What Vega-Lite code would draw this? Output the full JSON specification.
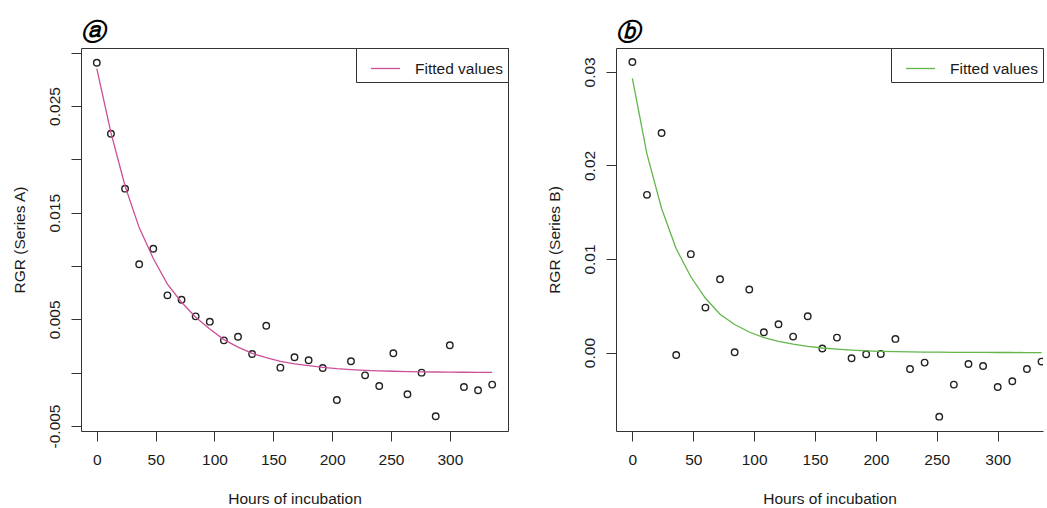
{
  "$schema": "https://vega.github.io/schema/vega-lite/v6.json",
  "padding": {"left": 11, "top": 20, "right": 0, "bottom": 0},
  "spacing": 38,
  "background": "white",
  "config": {
    "font": "Liberation Sans",
    "view": {"stroke": "#333", "strokeWidth": 1},
    "axis": {
      "domain": false, "grid": false, "tickColor": "#333", "tickSize": 10, "tickWidth": 1,
      "labelFont": "Liberation Sans", "labelFontSize": 15.5, "labelColor": "#1a1a1a",
      "titleFont": "Liberation Sans", "titleFontSize": 15.5, "titleFontWeight": "normal", "titleColor": "#1a1a1a",
      "labelFlush": false, "labelOverlap": false, "domainColor": "#333", "domainWidth": 1
    },
    "axisY": {"labelAngle": -90, "labelAlign": "center", "labelBaseline": "alphabetic", "labelPadding": 12, "titlePadding": 20},
    "axisX": {"labelPadding": 11, "titlePadding": 24},
    "legend": {
      "orient": "top-right", "offset": 0, "padding": 5, "strokeColor": "#333", "fillColor": "white",
      "labelFont": "Liberation Sans", "labelFontSize": 15.5, "labelColor": "#1a1a1a", "labelOffset": 14,
      "symbolType": "stroke", "symbolSize": 841, "symbolStrokeWidth": 1.3, "symbolOffset": 9, "cornerRadius": 0
    },
    "title": {"anchor": "start", "font": "DejaVu Serif", "fontSize": 24, "fontWeight": "bold", "fontStyle": "italic", "color": "black", "offset": 3, "frame": "group"}
  },
  "datasets": {
    "a": [
      {"h": 0, "rgr": 0.02906, "fit": 0.0285},
      {"h": 12, "rgr": 0.0224, "fit": 0.0225},
      {"h": 24, "rgr": 0.01725, "fit": 0.0175},
      {"h": 36, "rgr": 0.01016, "fit": 0.0136},
      {"h": 48, "rgr": 0.01162, "fit": 0.0107},
      {"h": 60, "rgr": 0.00725, "fit": 0.0083},
      {"h": 72, "rgr": 0.00684, "fit": 0.0066},
      {"h": 84, "rgr": 0.00528, "fit": 0.0052},
      {"h": 96, "rgr": 0.00478, "fit": 0.0041},
      {"h": 108, "rgr": 0.00303, "fit": 0.0031},
      {"h": 120, "rgr": 0.00337, "fit": 0.0024},
      {"h": 132, "rgr": 0.00175, "fit": 0.0018},
      {"h": 144, "rgr": 0.0044, "fit": 0.0014},
      {"h": 156, "rgr": 0.00047, "fit": 0.00105},
      {"h": 168, "rgr": 0.00144, "fit": 0.00082},
      {"h": 180, "rgr": 0.00116, "fit": 0.00065},
      {"h": 192, "rgr": 0.00044, "fit": 0.0005},
      {"h": 204, "rgr": -0.00256, "fit": 0.00038},
      {"h": 216, "rgr": 0.00107, "fit": 0.00029},
      {"h": 228, "rgr": -0.00025, "fit": 0.00022},
      {"h": 240, "rgr": -0.00125, "fit": 0.00017},
      {"h": 252, "rgr": 0.00182, "fit": 0.00013},
      {"h": 264, "rgr": -0.00203, "fit": 0.0001},
      {"h": 276, "rgr": 0.0, "fit": 0.00008},
      {"h": 288, "rgr": -0.00409, "fit": 0.00006},
      {"h": 300, "rgr": 0.00257, "fit": 0.00005},
      {"h": 312, "rgr": -0.00134, "fit": 0.00004},
      {"h": 324, "rgr": -0.00165, "fit": 0.00003},
      {"h": 336, "rgr": -0.00112, "fit": 0.00002}
    ],
    "b": [
      {"h": 0, "rgr": 0.03105, "fit": 0.0293},
      {"h": 12, "rgr": 0.01686, "fit": 0.0212},
      {"h": 24, "rgr": 0.02346, "fit": 0.0154},
      {"h": 36, "rgr": -0.00026, "fit": 0.0111},
      {"h": 48, "rgr": 0.01052, "fit": 0.0081},
      {"h": 60, "rgr": 0.00481, "fit": 0.0058},
      {"h": 72, "rgr": 0.00784, "fit": 0.0041},
      {"h": 84, "rgr": 0.00003, "fit": 0.003},
      {"h": 96, "rgr": 0.00674, "fit": 0.0022},
      {"h": 108, "rgr": 0.00217, "fit": 0.0016},
      {"h": 120, "rgr": 0.00303, "fit": 0.0012},
      {"h": 132, "rgr": 0.00171, "fit": 0.0009},
      {"h": 144, "rgr": 0.00388, "fit": 0.00066},
      {"h": 156, "rgr": 0.00043, "fit": 0.00049},
      {"h": 168, "rgr": 0.0016, "fit": 0.00036},
      {"h": 180, "rgr": -0.00061, "fit": 0.00026},
      {"h": 192, "rgr": -0.00018, "fit": 0.00019},
      {"h": 204, "rgr": -0.00015, "fit": 0.00014},
      {"h": 216, "rgr": 0.00146, "fit": 0.0001},
      {"h": 228, "rgr": -0.00175, "fit": 0.00007},
      {"h": 240, "rgr": -0.00107, "fit": 0.00005},
      {"h": 252, "rgr": -0.00685, "fit": 0.00004},
      {"h": 264, "rgr": -0.00342, "fit": 0.00003},
      {"h": 276, "rgr": -0.00122, "fit": 0.00002},
      {"h": 288, "rgr": -0.00143, "fit": 0.00002},
      {"h": 300, "rgr": -0.00368, "fit": 0.00001},
      {"h": 312, "rgr": -0.00307, "fit": 0.00001},
      {"h": 324, "rgr": -0.00175, "fit": 0.0},
      {"h": 336, "rgr": -0.00096, "fit": 0.0}
    ]
  },
  "hconcat": [
    {
      "title": {"text": "ⓐ"},
      "width": 427,
      "height": 383,
      "data": {"name": "a"},
      "layer": [
        {
          "mark": {"type": "point", "shape": "circle", "size": 42, "strokeWidth": 1.4, "color": "#222", "filled": false, "opacity": 1},
          "encoding": {
            "x": {"field": "h", "type": "quantitative", "title": "Hours of incubation",
              "scale": {"domain": [-13.44, 349.44], "nice": false, "zero": false},
              "axis": {"values": [0, 50, 100, 150, 200, 250, 300], "format": "d"}},
            "y": {"field": "rgr", "type": "quantitative", "title": "RGR (Series A)",
              "scale": {"domain": [-0.00547, 0.03044], "nice": false, "zero": false},
              "axis": {"values": [-0.005, 0, 0.005, 0.01, 0.015, 0.02, 0.025, 0.03],
                "labelExpr": "(abs(round(datum.value*1000)) % 10 == 5) ? replace(format(datum.value, '.3f'), '\u2212', '-') : ''"}}
          }
        },
        {
          "mark": {"type": "line", "strokeWidth": 1.3},
          "encoding": {
            "x": {"field": "h", "type": "quantitative", "title": "Hours of incubation"},
            "y": {"field": "fit", "type": "quantitative", "title": "RGR (Series A)"},
            "color": {"datum": "Fitted values", "scale": {"range": ["#cc4f9a"]}, "legend": {"title": null}}
          }
        }
      ]
    },
    {
      "title": {"text": "ⓑ"},
      "width": 427,
      "height": 383,
      "data": {"name": "b"},
      "view": {"stroke": null},
      "resolve": {"axis": {"x": "independent"}, "scale": {"color": "independent"}},
      "layer": [
        {
          "mark": {"type": "point", "shape": "circle", "size": 42, "strokeWidth": 1.4, "color": "#222", "filled": false, "opacity": 1, "clip": true},
          "encoding": {
            "x": {"field": "h", "type": "quantitative", "title": "Hours of incubation",
              "scale": {"domain": [-13.44, 337.2], "nice": false, "zero": false},
              "axis": {"values": [0, 50, 100, 150, 200, 250, 300], "format": "d", "domain": true}},
            "y": {"field": "rgr", "type": "quantitative", "title": "RGR (Series B)",
              "scale": {"domain": [-0.00838, 0.03255], "nice": false, "zero": false},
              "axis": {"values": [0, 0.01, 0.02, 0.03], "format": ".2f", "domain": true}}
          }
        },
        {
          "mark": {"type": "line", "strokeWidth": 1.3},
          "encoding": {
            "x": {"field": "h", "type": "quantitative", "title": null,
              "axis": {"orient": "top", "labels": false, "ticks": false, "domain": true, "title": null}},
            "y": {"field": "fit", "type": "quantitative", "title": "RGR (Series B)"},
            "color": {"datum": "Fitted values", "scale": {"range": ["#62b64a"]}, "legend": {"title": null}}
          }
        }
      ]
    }
  ],
  "resolve": {"scale": {"color": "independent"}, "legend": {"color": "independent"}}
}
